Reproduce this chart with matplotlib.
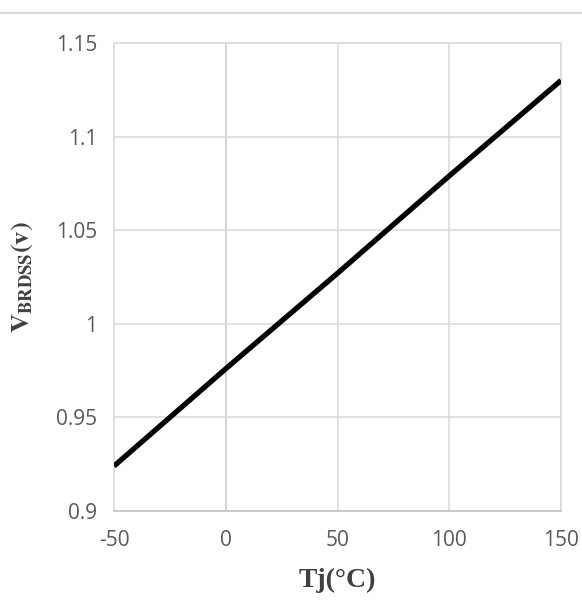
import matplotlib
matplotlib.use("Agg")
import matplotlib.pyplot as plt
from matplotlib.lines import Line2D

temps = [-50, 0, 50, 100, 150]
vbrdss = [0.924, 0.976, 1.027, 1.079, 1.130]
xticks = [-50, 0, 50, 100, 150]
yticks = [0.9, 0.95, 1.0, 1.05, 1.1, 1.15]
ytick_labels = ["0.9", "0.95", "1", "1.05", "1.1", "1.15"]

plt.rcParams['mathtext.fontset'] = 'stix'

fig = plt.figure(figsize=(5.82, 6.01), dpi=100)
ax = fig.add_axes([114/582, 1-511/601, (561-114)/582, (511-43)/601])

ax.set_xlim(-50, 150)
ax.set_ylim(0.9, 1.15)
ax.set_xticks(xticks)
ax.set_yticks(yticks)
ax.set_xticklabels([str(t) for t in xticks])
ax.set_yticklabels(ytick_labels)
ax.grid(True, color='#d9d9d9', linewidth=1.1)
ax.axvline(0, color='#bfbfbf', linewidth=1.3, zorder=1)
for s in ax.spines.values():
    s.set_color('#d9d9d9')
    s.set_linewidth(1.1)
ax.spines['bottom'].set_color('#bfbfbf')
ax.tick_params(length=0, labelsize=15, labelcolor='#595959')
ax.tick_params(axis='y', pad=12)
ax.tick_params(axis='x', pad=14)
for lab in ax.get_xticklabels() + ax.get_yticklabels():
    lab.set_family('Open Sans')

ax.plot(temps, vbrdss, color='black', linewidth=3.8, solid_capstyle='butt', zorder=3)

ax.set_xlabel('Tj(°C)', fontfamily='Liberation Serif', fontweight='bold', fontsize=20,
              color='#404040', labelpad=12)
fig.text(22/582, 1-277/601, r'$\mathbf{V}_{\mathbf{BRDSS}}\mathbf{(v)}$', rotation=90,
         ha='center', va='center', fontsize=19, color='#404040')

fig.add_artist(Line2D([0, 1], [1-13/601, 1-13/601], color='#d9d9d9', linewidth=1.6,
                      transform=fig.transFigure))

fig.savefig('out.png', dpi=100)
